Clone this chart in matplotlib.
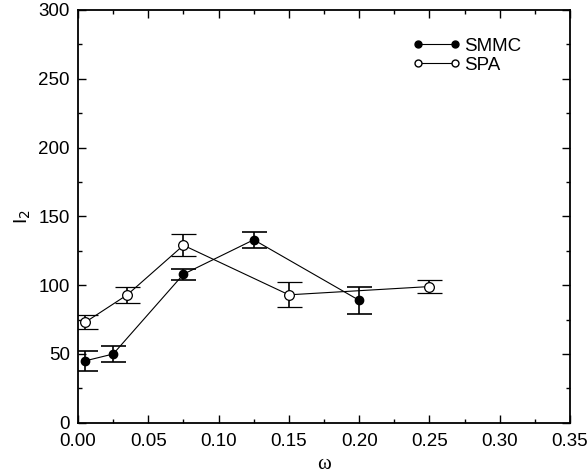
import numpy as np
import matplotlib
matplotlib.use("Agg")
import matplotlib.pyplot as plt
from matplotlib.ticker import MultipleLocator, FormatStrFormatter
from matplotlib.lines import Line2D

plt.rcParams['font.family'] = ['Liberation Sans', 'DejaVu Sans']

# SMMC data (filled circles)
smmc_w = [0.005, 0.025, 0.075, 0.125, 0.20]
smmc_i2 = [45, 50, 108, 133, 89]
smmc_err = [7, 6, 4, 6, 10]

# SPA data (open circles)
spa_w = [0.005, 0.035, 0.075, 0.15, 0.25]
spa_i2 = [73, 93, 129, 93, 99]
spa_err = [5, 6, 8, 9, 5]

fig = plt.figure(figsize=(5.87, 4.74), dpi=100)
ax = fig.add_axes([0.133, 0.108, 0.838, 0.871])

ax.errorbar(smmc_w, smmc_i2, yerr=smmc_err, fmt='o-', color='black',
            mfc='black', mec='black', ms=6, lw=0.8, elinewidth=1.2,
            capsize=9, capthick=1.2, zorder=3)
ax.errorbar(spa_w, spa_i2, yerr=spa_err, fmt='o-', color='black',
            mfc='white', mec='black', ms=7, mew=0.9, lw=0.8, elinewidth=1.2,
            capsize=9, capthick=1.2, zorder=3)

ax.set_xlim(0, 0.35)
ax.set_ylim(0, 300)
ax.xaxis.set_major_locator(MultipleLocator(0.05))
ax.xaxis.set_minor_locator(MultipleLocator(0.025))
ax.yaxis.set_major_locator(MultipleLocator(50))
ax.yaxis.set_minor_locator(MultipleLocator(25))
ax.xaxis.set_major_formatter(FormatStrFormatter('%.2f'))
ax.tick_params(which='both', direction='in', top=True, right=True,
               labelsize=13.5, width=1)
ax.tick_params(which='major', length=6)
ax.tick_params(which='minor', length=3)
ax.tick_params(axis='x', pad=7)
ax.tick_params(axis='y', pad=6)
for s in ax.spines.values():
    s.set_linewidth(1.3)

ax.set_xlabel('ω', fontsize=15, family='Liberation Serif', labelpad=4)
ax.set_ylabel(r'I$_2$', fontsize=14, labelpad=4)

# legend handles without error bars
h1 = Line2D([], [], color='black', marker='o', mfc='black', ms=5, lw=0.8)
h2 = Line2D([], [], color='black', marker='o', mfc='white', ms=5, lw=0.8)
ax.legend([h1, h2], ['SMMC', 'SPA'], loc='upper left', numpoints=2,
          frameon=False, fontsize=13.5, handlelength=2.6, handletextpad=0.15,
          labelspacing=0.1, borderpad=0, bbox_to_anchor=(0.66, 0.955))

fig.savefig('out.png', dpi=100)
